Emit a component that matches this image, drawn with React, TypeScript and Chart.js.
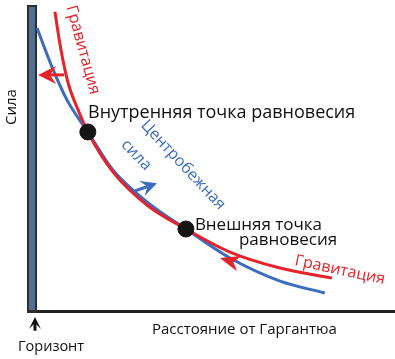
import React, { useEffect, useRef } from "react";
import { Chart, registerables } from "chart.js";
Chart.register(...registerables);

// Distance (x) and force (y), arbitrary units 0..100
const centrifugalX = [0, 4.2, 8.4, 14.2, 21.2, 30.7, 41.6, 53.9, 67.9, 80.4];
const centrifugalY = [91.0, 78.5, 67.9, 57.7, 45.5, 35.3, 26.6, 17.3, 9.9, 6.1];
const gravityX = [5.0, 6.7, 8.7, 11.5, 14.2, 21.2, 30.7, 41.6, 53.9, 67.9, 82.4];
const gravityY = [96.2, 84.0, 73.4, 64.7, 57.7, 44.9, 34.3, 26.6, 19.2, 14.1, 10.9];
const equilibriumX = [14.2, 41.6];
const equilibriumY = [57.7, 26.6];

const RED = "#e4232b";
const BLUE = "#3b6cc0";
const FONT = "'Open Sans', 'Noto Sans', sans-serif";

type Arrow = { x0: number; y0: number; x1: number; y1: number; color: string; shaft: boolean; head: number; half: number; lw: number };
const arrows: Arrow[] = [
  { x0: 7.6, y0: 76.0, x1: 0.3, y1: 76.0, color: RED, shaft: true, head: 15, half: 9, lw: 3 },
  { x0: 27.4, y0: 38.8, x1: 33.5, y1: 41.3, color: BLUE, shaft: true, head: 13, half: 8, lw: 3 },
  { x0: 55.9, y0: 15.7, x1: 51.1, y1: 17.3, color: RED, shaft: false, head: 17, half: 8, lw: 3 },
  { x0: -0.56, y0: -6.0, x1: -0.56, y1: -1.6, color: "#111", shaft: true, head: 9, half: 6, lw: 3 },
];

type Label = { text: string; x: number; y: number; rot: number; color: string; size: number; align: CanvasTextAlign; base: CanvasTextBaseline };
const labels: Label[] = [
  { text: "Внутренняя точка равновесия", x: 14.25, y: 62.2, rot: 0, color: "#111", size: 18, align: "left", base: "alphabetic" },
  { text: "Внешняя точка", x: 44.1, y: 26.3, rot: 0, color: "#111", size: 17, align: "left", base: "alphabetic" },
  { text: "равновесия", x: 56.4, y: 21.5, rot: 0, color: "#111", size: 17, align: "left", base: "alphabetic" },
  { text: "Гравитация", x: 12.8, y: 84.0, rot: 74.5, color: RED, size: 16, align: "center", base: "middle" },
  { text: "Центробежная", x: 40.8, y: 47.1, rot: 47, color: BLUE, size: 16, align: "center", base: "middle" },
  { text: "сила", x: 27.7, y: 50.3, rot: 46, color: BLUE, size: 16, align: "center", base: "middle" },
  { text: "Гравитация", x: 84.6, y: 13.4, rot: 12, color: RED, size: 16, align: "center", base: "middle" },
  { text: "Сила", x: -7.0, y: 65.7, rot: -90, color: "#111", size: 15, align: "center", base: "middle" },
  { text: "Расстояние от Гаргантюа", x: 32.1, y: -5.8, rot: 0, color: "#111", size: 15, align: "left", base: "middle" },
  { text: "Горизонт", x: -5.3, y: -11.2, rot: 0, color: "#111", size: 14.5, align: "left", base: "middle" },
];

const HORIZON_TOP = 98.4;

const backgroundPlugin = {
  id: "horizon",
  beforeDatasetsDraw(chart: any) {
    const { ctx, scales } = chart;
    const xs = scales.x, ys = scales.y;
    const x0 = xs.getPixelForValue(0);
    const top = ys.getPixelForValue(HORIZON_TOP);
    const bottom = ys.getPixelForValue(0);
    ctx.save();
    ctx.strokeStyle = "#222";
    ctx.lineWidth = 3;
    ctx.beginPath();
    ctx.moveTo(x0 - 10, bottom - 0.5);
    ctx.lineTo(chart.width, bottom - 0.5);
    ctx.stroke();
    ctx.fillStyle = "#2e2e2e";
    ctx.fillRect(x0 - 10, top, 10, bottom - top + 1);
    ctx.fillStyle = "#52708f";
    ctx.fillRect(x0 - 8, top + 2, 6, bottom - top - 4);
    ctx.restore();
  },
};

const overlayPlugin = {
  id: "overlay",
  afterDatasetsDraw(chart: any) {
    const { ctx, scales } = chart;
    const xs = scales.x, ys = scales.y;
    ctx.save();
    for (const a of arrows) {
      const px0 = xs.getPixelForValue(a.x0), py0 = ys.getPixelForValue(a.y0);
      const px1 = xs.getPixelForValue(a.x1), py1 = ys.getPixelForValue(a.y1);
      const dx = px1 - px0, dy = py1 - py0;
      const len = Math.hypot(dx, dy);
      const ux = dx / len, uy = dy / len;
      const bx = px1 - ux * a.head, by = py1 - uy * a.head;
      ctx.strokeStyle = a.color;
      ctx.fillStyle = a.color;
      if (a.shaft) {
        ctx.lineWidth = a.lw;
        ctx.beginPath();
        ctx.moveTo(px0, py0);
        ctx.lineTo(bx + ux * 3, by + uy * 3);
        ctx.stroke();
      }
      ctx.beginPath();
      ctx.moveTo(px1, py1);
      ctx.lineTo(bx - uy * a.half - ux * 3, by + ux * a.half - uy * 3);
      ctx.lineTo(bx + ux * 3, by + uy * 3);
      ctx.lineTo(bx + uy * a.half - ux * 3, by - ux * a.half - uy * 3);
      ctx.closePath();
      ctx.fill();
    }
    for (const l of labels) {
      const px = xs.getPixelForValue(l.x), py = ys.getPixelForValue(l.y);
      ctx.save();
      ctx.translate(px, py);
      ctx.rotate((l.rot * Math.PI) / 180);
      ctx.font = `${l.size}px ${FONT}`;
      ctx.fillStyle = l.color;
      ctx.textAlign = l.align;
      ctx.textBaseline = l.base;
      ctx.fillText(l.text, 0, 0);
      ctx.restore();
    }
    ctx.restore();
  },
};

export default function App() {
  const ref = useRef<HTMLCanvasElement | null>(null);
  useEffect(() => {
    if (!ref.current) return;
    const chart = new Chart(ref.current, {
      type: "scatter",
      data: {
        datasets: [
          {
            data: centrifugalX.map((x, i) => ({ x, y: centrifugalY[i] })),
            showLine: true,
            borderColor: BLUE,
            borderWidth: 3,
            pointRadius: 0,
            cubicInterpolationMode: "monotone",
            clip: false,
            order: 3,
          } as any,
          {
            data: gravityX.map((x, i) => ({ x, y: gravityY[i] })),
            showLine: true,
            borderColor: RED,
            borderWidth: 3,
            pointRadius: 0,
            cubicInterpolationMode: "monotone",
            clip: false,
            order: 2,
          } as any,
          {
            data: equilibriumX.map((x, i) => ({ x, y: equilibriumY[i] })),
            showLine: false,
            pointRadius: 8,
            pointBackgroundColor: "#151515",
            pointBorderColor: "#151515",
            clip: false,
            order: 1,
          } as any,
        ],
      },
      options: {
        responsive: false,
        animation: false,
        layout: { autoPadding: false, padding: { left: 37, right: 0, top: 0, bottom: 47 } },
        plugins: { legend: { display: false }, tooltip: { enabled: false } },
        events: [],
        scales: {
          x: { type: "linear", min: 0, max: 100, display: false },
          y: { type: "linear", min: 0, max: 100, display: false },
        },
      } as any,
      plugins: [backgroundPlugin, overlayPlugin],
    });
    return () => chart.destroy();
  }, []);
  return (
    <div style={{ position: "absolute", left: 0, top: 0, width: 395, height: 359, background: "#fff" }}>
      <canvas ref={ref} width={395} height={359} />
    </div>
  );
}
